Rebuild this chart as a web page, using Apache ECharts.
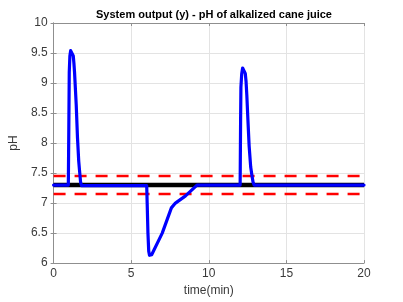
<!DOCTYPE html>
<html>
<head>
<meta charset="utf-8">
<script src="https://cdn.jsdelivr.net/npm/echarts@6/dist/echarts.min.js"></script>
<style>
  html, body { margin: 0; padding: 0; background: #fff; }
  #chart { width: 403px; height: 302px; }
</style>
</head>
<body>
<div id="chart"></div>
<script>
// system output y(t)
const timeMin = [0, 0.95, 0.98, 1.01, 1.05, 1.1, 1.16, 1.22, 1.27, 1.31, 1.35, 1.46, 1.54, 1.62, 1.67, 1.74, 1.8, 1.9,
  6.0, 6.03, 6.08, 6.13, 6.18, 6.24, 6.32, 7.0, 7.59, 7.85, 8.5, 9.24,
  12.02, 12.05, 12.07, 12.12, 12.18, 12.24, 12.3, 12.35, 12.4, 12.45, 12.52, 12.6, 12.7, 12.78, 12.85, 12.92, 20];
const phOut = [7.3, 7.3, 8.2, 9.18, 9.45, 9.54, 9.56, 9.53, 9.45, 9.33, 9.18, 8.63, 8.09, 7.7, 7.55, 7.35, 7.29, 7.29,
  7.29, 7.0, 6.5, 6.2, 6.13, 6.11, 6.14, 6.5, 6.92, 7.0, 7.12, 7.3,
  7.3, 8.4, 8.93, 9.15, 9.25, 9.27, 9.24, 9.16, 9.03, 8.8, 8.39, 7.95, 7.6, 7.46, 7.35, 7.3, 7.3];
// setpoint and tolerance band
const setTime = [0, 20];
const setpoint = [7.3, 7.3];
const upperBand = [7.45, 7.45];
const lowerBand = [7.15, 7.15];

const xTicks = [0, 5, 10, 15, 20];
const yTicks = [6, 6.5, 7, 7.5, 8, 8.5, 9, 9.5, 10];

const pair = (xs, ys) => xs.map((x, i) => [x, ys[i]]);

const chart = echarts.init(document.getElementById("chart"));
const font = "Liberation Sans";
const axisGray = "#8f8f8f";
const textGray = "#3a3a3a";

const baseX = {
  type: "value",
  min: xTicks[0],
  max: xTicks[xTicks.length - 1],
  interval: 5,
  axisLine: { show: true, lineStyle: { color: axisGray, width: 1 } },
  axisTick: { show: true, inside: true, length: 3, lineStyle: { color: axisGray } },
  splitLine: { show: true, lineStyle: { color: "#e3e3e3", width: 1 } },
};
const baseY = {
  type: "value",
  min: yTicks[0],
  max: yTicks[yTicks.length - 1],
  interval: 0.5,
  axisLine: { show: true, lineStyle: { color: axisGray, width: 1 } },
  axisTick: { show: true, inside: true, length: 3, lineStyle: { color: axisGray } },
  splitLine: { show: true, lineStyle: { color: "#e3e3e3", width: 1 } },
};

const option = {
  animation: false,
  backgroundColor: "#fff",
  title: {
    text: "System output (y) - pH of alkalized cane juice",
    left: 209,
    textAlign: "center",
    top: 4,
    textStyle: { fontFamily: font, fontSize: 11, fontWeight: "bold", color: "#000" },
  },
  grid: { left: 53, right: 39, top: 23, bottom: 34 },
  xAxis: [
    Object.assign({}, baseX, {
      position: "bottom",
      name: "time(min)",
      nameLocation: "middle",
      nameGap: 18,
      nameTextStyle: { fontFamily: font, fontSize: 12, color: textGray },
      axisLabel: { fontFamily: font, fontSize: 12, color: textGray, margin: 5 },
    }),
    Object.assign({}, baseX, { position: "top", axisLabel: { show: false }, splitLine: { show: false } }),
  ],
  yAxis: [
    Object.assign({}, baseY, {
      position: "left",
      name: "pH",
      nameLocation: "middle",
      nameGap: 25,
      nameTextStyle: { fontFamily: font, fontSize: 12, color: textGray },
      axisLabel: { fontFamily: font, fontSize: 12, color: textGray, margin: 6 },
    }),
    Object.assign({}, baseY, { position: "right", axisLabel: { show: false }, splitLine: { show: false } }),
  ],
  series: [
    {
      name: "upper",
      type: "line",
      data: pair(setTime, upperBand),
      showSymbol: false,
      lineStyle: { color: "#ff0000", width: 2.5, type: [12, 9] },
      z: 2,
    },
    {
      name: "lower",
      type: "line",
      data: pair(setTime, lowerBand),
      showSymbol: false,
      lineStyle: { color: "#ff0000", width: 2.5, type: [12, 9] },
      z: 2,
    },
    {
      name: "setpoint",
      type: "line",
      data: pair(setTime, setpoint),
      showSymbol: false,
      lineStyle: { color: "#000", width: 4.5 },
      z: 3,
    },
    {
      name: "y",
      type: "line",
      data: pair(timeMin, phOut),
      showSymbol: false,
      lineStyle: { color: "#0000ff", width: 3.2, cap: "round", join: "round" },
      z: 4,
    },
  ],
};
chart.setOption(option);
</script>
</body>
</html>
